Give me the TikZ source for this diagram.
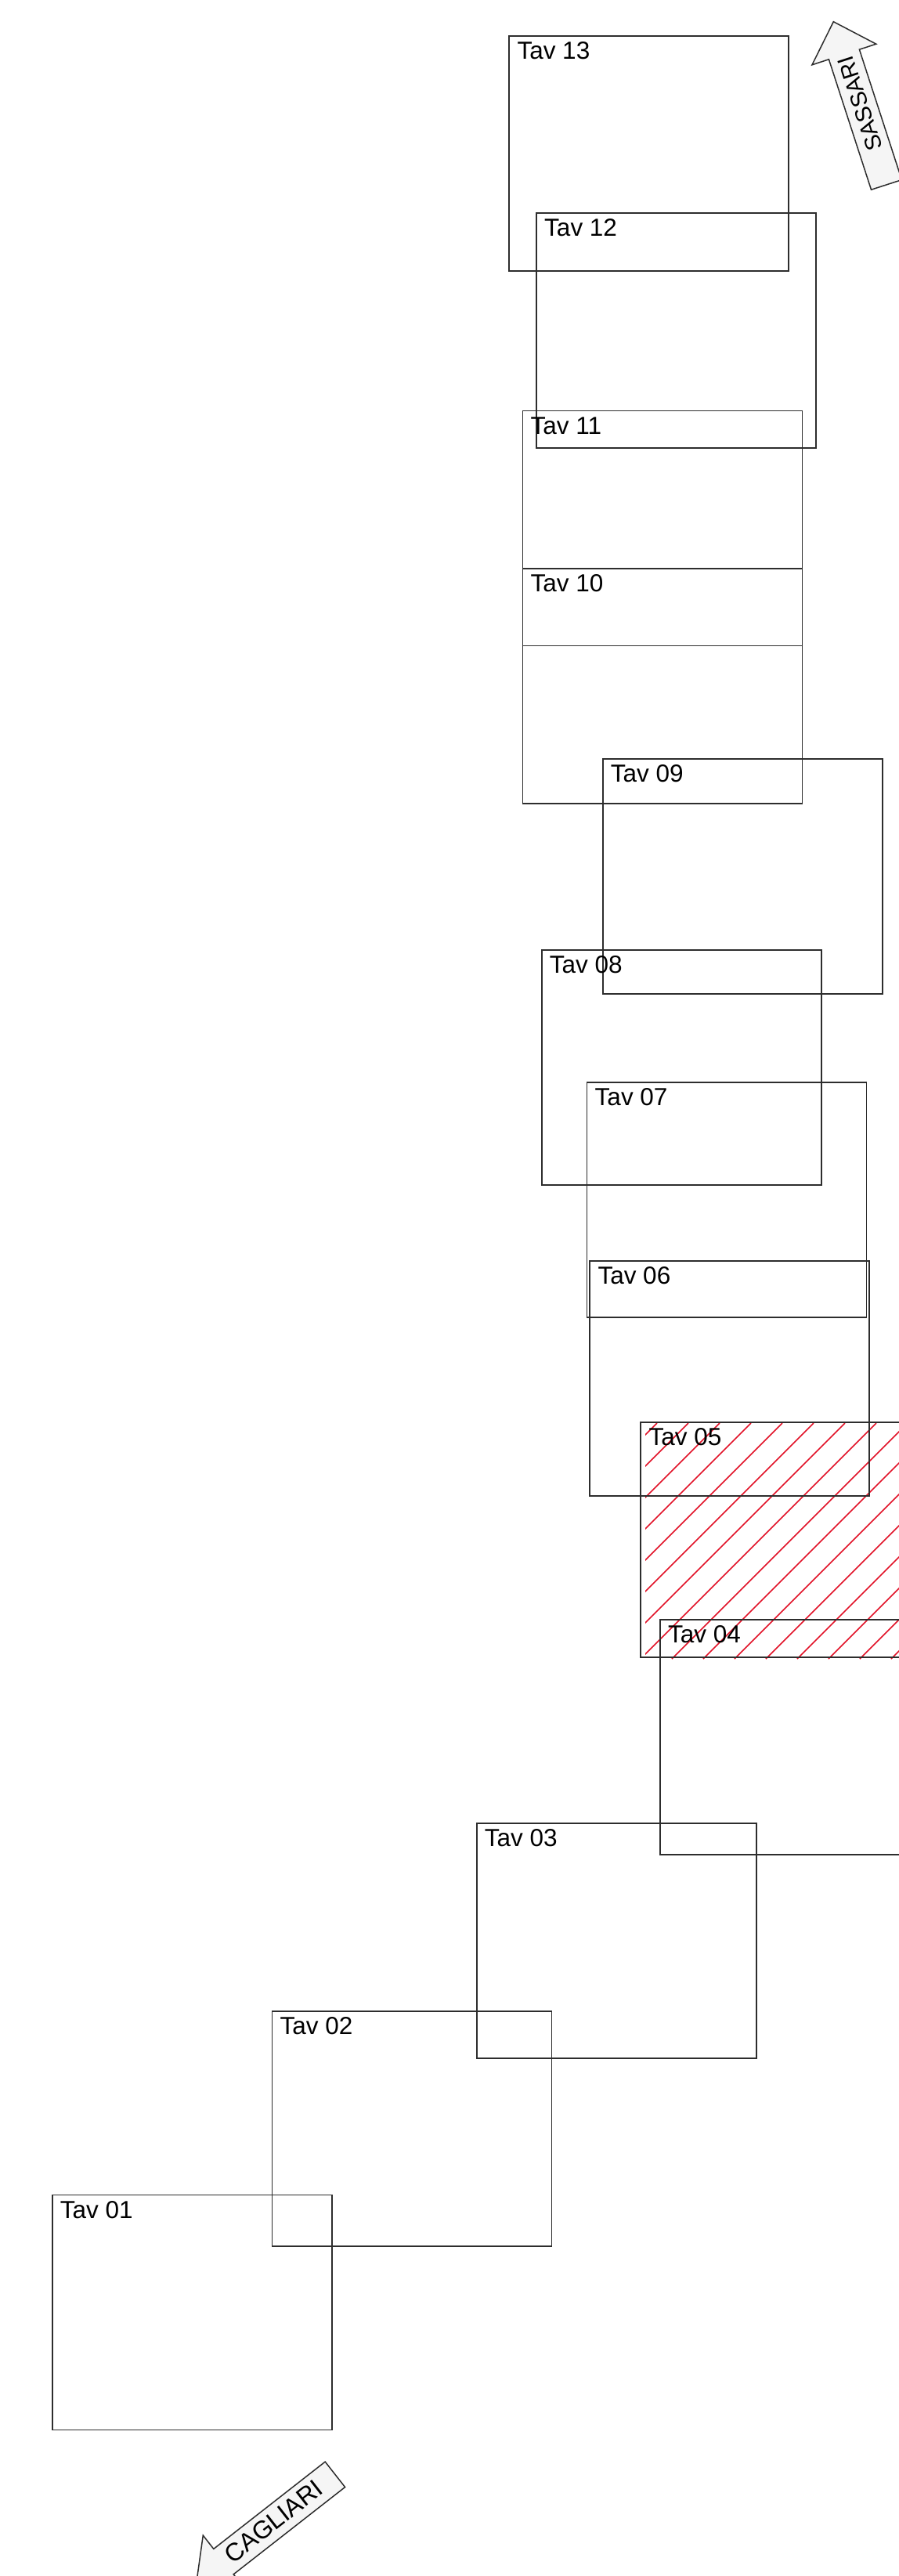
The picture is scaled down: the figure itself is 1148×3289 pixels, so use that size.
\documentclass[tikz,border=0pt]{standalone}
\usepackage{fontspec}
\setmainfont{Liberation Sans}
\definecolor{hatchred}{RGB}{226,18,40}
\definecolor{linegray}{RGB}{45,45,45}
\begin{document}
\begin{tikzpicture}[x=1pt,y=-1pt,
  tav/.style={draw=linegray, line width=1.7pt, minimum width=357pt, minimum height=300pt,
              inner sep=0pt, outer sep=0pt, anchor=north west},
  tavlabel/.style={anchor=base west, inner sep=0pt, font=\fontsize{31.5}{36}\selectfont},
  hatchline/.style={draw=hatchred, line width=1.7pt},
  roadarrow/.style={draw=linegray, fill=black!4, line width=1.5pt, line join=miter},
  roadlabel/.style={inner sep=0pt, anchor=center, font=\fontsize{29}{32}\selectfont}]
\useasboundingbox (0,0) rectangle (1148,3289);
\fill[white] (0,0) rectangle (1148,3289);
\clip (0,0) rectangle (1148,3289);

% hatching of Tav 05
\begin{scope}
  \clip (824,1817) rectangle (1148,2118);
  \foreach \k in {-2,...,15}{
    \draw[hatchline] ({2696+40*\k-2118},2118) -- ({2696+40*\k-1817},1817);
  }
\end{scope}

% sheets
\node[tav] (t13) at (650.3,46.2)   {};
\node[tav] (t12) at (685.0,272.0)  {};
\node[tav] (t11) at (667.4,524.6)  {};
\node[tav] (t10) at (667.4,726.0)  {};
\node[tav] (t09) at (769.7,969.2)  {};
\node[tav] (t08) at (691.7,1213.2) {};
\node[tav] (t07) at (749.5,1382.0) {};
\node[tav] (t06) at (753.3,1610.0) {};
\node[tav] (t05) at (818.3,1815.7) {};
\node[tav] (t04) at (842.8,2068.0) {};
\node[tav] (t03) at (608.7,2327.7) {};
\node[tav] (t02) at (347.4,2568.2) {};
\node[tav] (t01) at (66.7,2802.6)  {};

\foreach \n in {01,02,03,04,05,06,07,08,09,10,11,12,13}{
  \node[tavlabel] (l\n) at ([shift={(10pt,-29.5pt)}]t\n.north west) {Tav \n};
}

% direction arrows
\draw[roadarrow] (1064.3,27.7) -- (1118.8,56.2) -- (1097.4,63.2) -- (1151.5,229.6)
  -- (1112.5,242.2) -- (1058.4,75.8) -- (1037.0,82.8) -- cycle;
\node[roadlabel, rotate=108] (sassari) at (1098.3,132.3) {SASSARI};

\draw[roadarrow] (415.2,3143.1) -- (440.6,3175.5) -- (298.2,3286.8) -- (311.7,3304.1)
  -- (250.8,3297.7) -- (259.3,3237.1) -- (272.8,3254.4) -- cycle;
\node[roadlabel, rotate=38, font=\fontsize{32}{34}\selectfont] (cagliari) at (349.1,3219.5) {CAGLIARI};
\end{tikzpicture}
\end{document}
